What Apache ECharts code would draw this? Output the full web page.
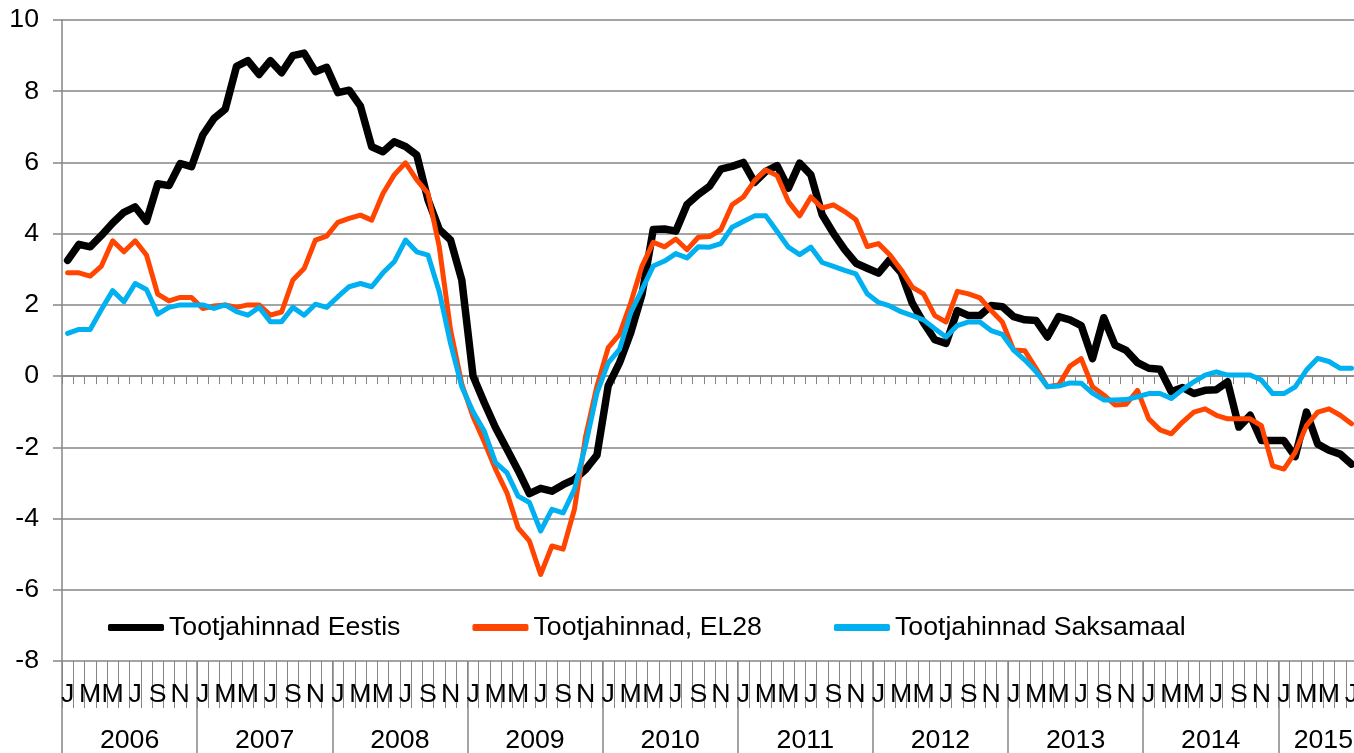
<!DOCTYPE html>
<html>
<head>
<meta charset="utf-8">
<script src="https://cdn.jsdelivr.net/npm/echarts@6/dist/echarts.min.js"></script>
<style>
html,body{margin:0;padding:0;background:#fff;}
#chart{width:1354px;height:753px;}
</style>
</head>
<body>
<div id="chart"></div>
<script>
const years = [2006, 2007, 2008, 2009, 2010, 2011, 2012, 2013, 2014, 2015];
const monthsInYear = [12, 12, 12, 12, 12, 12, 12, 12, 12, 8];
const monthLetters = ['J','F','M','A','M','J','J','A','S','O','N','D'];
const yTicks = { min: -8, max: 10, step: 2 };

const seriesNames = ['Tootjahinnad Eestis', 'Tootjahinnad, EL28', 'Tootjahinnad Saksamaal'];

const eestis = [
 3.25, 3.7, 3.63, 3.95, 4.3, 4.6, 4.75, 4.35, 5.4, 5.35, 5.97, 5.88,
 6.77, 7.24, 7.5, 8.7, 8.86, 8.47, 8.86, 8.52, 9.0, 9.07, 8.55, 8.67,
 7.96, 8.03, 7.58, 6.44, 6.3, 6.58, 6.45, 6.21, 4.95, 4.12, 3.82, 2.7,
 0.0, -0.75, -1.45, -2.05, -2.65, -3.3, -3.15, -3.23, -3.05, -2.9, -2.62, -2.22,
 -0.27, 0.37, 1.22, 2.29, 4.12, 4.13, 4.07, 4.82, 5.1, 5.33, 5.81, 5.89,
 6.0, 5.44, 5.75, 5.91, 5.28, 5.98, 5.65, 4.53, 4.01, 3.55, 3.17, 3.03,
 2.89, 3.27, 2.91, 2.05, 1.5, 1.02, 0.92, 1.84, 1.7, 1.7, 1.98, 1.95,
 1.67, 1.58, 1.56, 1.1, 1.67, 1.58, 1.42, 0.49, 1.64, 0.87, 0.72, 0.38,
 0.22, 0.19, -0.44, -0.32, -0.49, -0.4, -0.38, -0.16, -1.43, -1.1, -1.81, -1.81,
 -1.81, -2.26, -1.01, -1.91, -2.08, -2.19, -2.47, null
];
const el28 = [
 2.9, 2.9, 2.81, 3.09, 3.8, 3.49, 3.8, 3.4, 2.3, 2.11, 2.21, 2.21,
 1.9, 1.97, 2.0, 1.93, 2.0, 2.0, 1.71, 1.8, 2.7, 3.02, 3.82, 3.93,
 4.32, 4.43, 4.52, 4.38, 5.13, 5.65, 5.99, 5.51, 5.13, 3.63, 1.3, -0.22,
 -1.14, -1.85, -2.62, -3.27, -4.26, -4.63, -5.57, -4.77, -4.86, -3.74, -1.68, -0.28,
 0.8, 1.17, 2.06, 3.09, 3.76, 3.63, 3.85, 3.55, 3.9, 3.92, 4.11, 4.81,
 5.03, 5.49, 5.79, 5.63, 4.9, 4.5, 5.03, 4.72, 4.81, 4.62, 4.39, 3.64,
 3.72, 3.41, 2.99, 2.5, 2.31, 1.7, 1.52, 2.38, 2.31, 2.2, 1.84, 1.52,
 0.73, 0.71, 0.21, -0.3, -0.25, 0.28, 0.49, -0.3, -0.53, -0.81, -0.79, -0.4,
 -1.2, -1.51, -1.62, -1.29, -1.01, -0.92, -1.1, -1.2, -1.2, -1.2, -1.39, -2.52,
 -2.61, -2.14, -1.39, -1.01, -0.92, -1.1, -1.34, null
];
const saksamaal = [
 1.2, 1.31, 1.31, 1.87, 2.4, 2.09, 2.6, 2.43, 1.74, 1.93, 2.0, 2.0,
 2.0, 1.9, 2.0, 1.81, 1.71, 1.93, 1.53, 1.53, 1.93, 1.71, 2.02, 1.93,
 2.23, 2.51, 2.6, 2.51, 2.9, 3.21, 3.82, 3.49, 3.4, 2.37, 0.92, -0.3,
 -1.0, -1.55, -2.43, -2.71, -3.37, -3.55, -4.35, -3.74, -3.84, -3.18, -1.92, -0.47,
 0.37, 0.75, 1.78, 2.43, 3.09, 3.23, 3.44, 3.32, 3.63, 3.62, 3.72, 4.18,
 4.34, 4.5, 4.5, 4.06, 3.62, 3.41, 3.62, 3.19, 3.08, 2.97, 2.87, 2.31,
 2.07, 1.97, 1.81, 1.7, 1.58, 1.33, 1.1, 1.42, 1.52, 1.52, 1.28, 1.17,
 0.73, 0.45, 0.12, -0.3, -0.28, -0.19, -0.2, -0.48, -0.67, -0.67, -0.66, -0.58,
 -0.49, -0.49, -0.63, -0.38, -0.16, 0.03, 0.12, 0.03, 0.03, 0.03, -0.11, -0.49,
 -0.49, -0.3, 0.17, 0.5, 0.41, 0.22, 0.22, null
];

// categories "YYYY-M"
const categories = [];
years.forEach((y, yi) => {
  for (let m = 0; m < monthsInYear[yi]; m++) categories.push(y + '-' + m);
});
const yearMid = {};
years.forEach((y, yi) => { yearMid[y] = Math.floor(monthsInYear[yi] / 2) - 1; });

const GRAY = '#868686';
const FONT = 'Liberation Sans, Arial, sans-serif';
const FS = 26.7;
const monthW = 11.262;
const gridBox = { left: 62, top: 20, width: monthW * categories.length, height: 641, outerBoundsMode: 'none', containLabel: false };

const chart = echarts.init(document.getElementById('chart'), null, { renderer: 'canvas' });
chart.setOption({
  animation: false,
  backgroundColor: '#fff',
  grid: [Object.assign({}, gridBox), Object.assign({}, gridBox), Object.assign({}, gridBox)],
  legend: {
    left: 108, top: 614, padding: 0,
    itemWidth: 56, itemHeight: 7, itemGap: 72,
    icon: 'roundRect',
    textStyle: { fontSize: FS, fontFamily: FONT, color: '#000' },
    data: seriesNames
  },
  xAxis: [
    { // axis line at zero with small ticks
      type: 'category', gridIndex: 0, data: categories, boundaryGap: true, position: 'bottom',
      axisLine: { show: true, onZero: true, lineStyle: { color: GRAY, width: 1.5 } },
      axisTick: { show: true, interval: 0, length: 8, lineStyle: { color: GRAY, width: 1 } },
      axisLabel: { show: false }, splitLine: { show: false }
    },
    { // month letters
      type: 'category', gridIndex: 1, data: categories, boundaryGap: true, position: 'bottom',
      axisLine: { show: false, onZero: false },
      axisTick: { show: true, interval: 0, length: 47, lineStyle: { color: GRAY, width: 1 } },
      axisLabel: {
        show: true, margin: 21, fontSize: FS, lineHeight: 26, fontFamily: FONT, color: '#000',
        interval: (idx, val) => parseInt(String(val).split('-')[1], 10) % 2 === 0,
        formatter: (val) => monthLetters[parseInt(String(val).split('-')[1], 10)]
      },
      splitLine: { show: false }
    },
    { // years
      type: 'category', gridIndex: 2, data: categories, boundaryGap: true, position: 'bottom',
      axisLine: { show: false, onZero: false },
      axisTick: { show: true, length: 92, lineStyle: { color: GRAY, width: 1.5 },
        interval: (idx, val) => parseInt(String(val).split('-')[1], 10) === 0 },
      axisLabel: {
        show: true, margin: 67, fontSize: FS, lineHeight: 26, fontFamily: FONT, color: '#000',
        padding: [0, 0, 0, monthW],
        interval: (idx, val) => {
          const p = String(val).split('-');
          return parseInt(p[1], 10) === yearMid[p[0]];
        },
        formatter: (val) => String(val).split('-')[0]
      },
      splitLine: { show: false }
    }
  ],
  yAxis: [
    {
      type: 'value', gridIndex: 0, min: yTicks.min, max: yTicks.max, interval: yTicks.step,
      axisLine: { show: true, lineStyle: { color: GRAY, width: 1.5 } },
      axisTick: { show: true, length: 9, lineStyle: { color: GRAY, width: 1.5 } },
      axisLabel: { margin: 23, fontSize: FS, fontFamily: FONT, color: '#000' },
      splitLine: { show: true, lineStyle: { color: GRAY, width: 1.5 } }
    },
    { type: 'value', gridIndex: 1, min: yTicks.min, max: yTicks.max, show: false, splitLine: { show: false } },
    { type: 'value', gridIndex: 2, min: yTicks.min, max: yTicks.max, show: false, splitLine: { show: false } }
  ],
  series: [
    { name: seriesNames[0], type: 'line', xAxisIndex: 0, yAxisIndex: 0, data: eestis,
      showSymbol: false, symbol: 'none', color: '#000000',
      lineStyle: { color: '#000000', width: 7.5, cap: 'round', join: 'round' } },
    { name: seriesNames[1], type: 'line', xAxisIndex: 0, yAxisIndex: 0, data: el28,
      showSymbol: false, symbol: 'none', color: '#FF4500',
      lineStyle: { color: '#FF4500', width: 5, cap: 'round', join: 'round' } },
    { name: seriesNames[2], type: 'line', xAxisIndex: 0, yAxisIndex: 0, data: saksamaal,
      showSymbol: false, symbol: 'none', color: '#00B0F0',
      lineStyle: { color: '#00B0F0', width: 5, cap: 'round', join: 'round' } }
  ]
});
</script>
</body>
</html>
